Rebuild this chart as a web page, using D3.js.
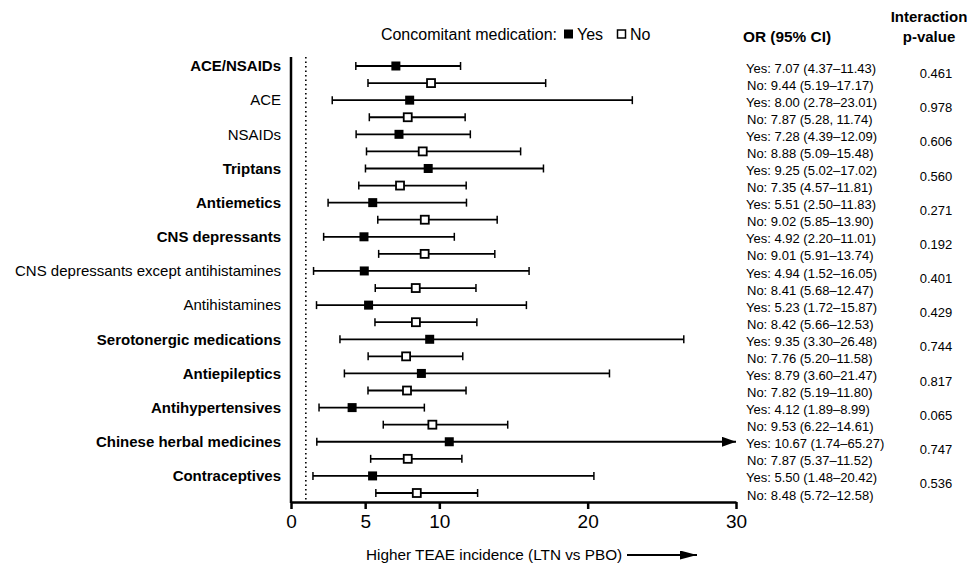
<!DOCTYPE html>
<html>
<head>
<meta charset="utf-8">
<script src="https://cdn.jsdelivr.net/npm/d3@7"></script>
<style>
  body { margin: 0; background: #fff; }
  svg { font-family: "Liberation Sans", Arial, sans-serif; }
</style>
</head>
<body>
<svg id="chart" width="969" height="565"></svg>
<script>
// data
const groups = ['ACE/NSAIDs', 'ACE', 'NSAIDs', 'Triptans', 'Antiemetics', 'CNS depressants',
  'CNS depressants except antihistamines', 'Antihistamines', 'Serotonergic medications',
  'Antiepileptics', 'Antihypertensives', 'Chinese herbal medicines', 'Contraceptives'];
const boldGroups = [true, false, false, true, true, true, false, false, true, true, true, true, true];
const yesOR = [7.07, 8.00, 7.28, 9.25, 5.51, 4.92, 4.94, 5.23, 9.35, 8.79, 4.12, 10.67, 5.50];
const yesLo = [4.37, 2.78, 4.39, 5.02, 2.50, 2.20, 1.52, 1.72, 3.30, 3.60, 1.89, 1.74, 1.48];
const yesHi = [11.43, 23.01, 12.09, 17.02, 11.83, 11.01, 16.05, 15.87, 26.48, 21.47, 8.99, 65.27, 20.42];
const noOR = [9.44, 7.87, 8.88, 7.35, 9.02, 9.01, 8.41, 8.42, 7.76, 7.82, 9.53, 7.87, 8.48];
const noLo = [5.19, 5.28, 5.09, 4.57, 5.85, 5.91, 5.68, 5.66, 5.20, 5.19, 6.22, 5.37, 5.72];
const noHi = [17.17, 11.74, 15.48, 11.81, 13.90, 13.74, 12.47, 12.53, 11.58, 11.80, 14.61, 11.52, 12.58];
const pValues = ['0.461', '0.978', '0.606', '0.560', '0.271', '0.192', '0.401', '0.429', '0.744', '0.817', '0.065', '0.747', '0.536'];
const xTicks = [0, 5, 10, 20, 30];

const svg = d3.select('#chart');
const x = d3.scaleLinear().domain([0, 30]).range([291, 736]);
const fmt = d3.format('.2f');

// one row per group and arm
const rows = [];
groups.forEach((g, i) => {
  rows.push({ key: g + '|Yes', arm: 'Yes', i, or: yesOR[i], lo: yesLo[i], hi: yesHi[i] });
  rows.push({ key: g + '|No', arm: 'No', i, or: noOR[i], lo: noLo[i], hi: noHi[i] });
});
const y = d3.scalePoint().domain(rows.map(d => d.key)).range([66, 493]);

// CI text uses the style printed in the figure
const ciText = (d) => {
  if (d.i === 1 && d.arm === 'No') return `No: ${fmt(d.or)} (${fmt(d.lo)}, ${fmt(d.hi)})`;
  return `${d.arm}: ${fmt(d.or)} (${fmt(d.lo)}\u2013${fmt(d.hi)})`;
};

// arrow markers
const defs = svg.append('defs');
[['arrowBar', 14, 10], ['arrowTitle', 17, 9]].forEach(([id, w, h]) => {
  defs.append('marker')
    .attr('id', id)
    .attr('viewBox', `0 0 ${w} ${h}`)
    .attr('refX', w).attr('refY', h / 2)
    .attr('markerWidth', w).attr('markerHeight', h)
    .attr('markerUnits', 'userSpaceOnUse')
    .attr('orient', 'auto')
    .append('path').attr('d', `M0,0L${w},${h / 2}L0,${h}Z`).attr('fill', '#000');
});

// reference line at OR = 1
svg.append('line')
  .attr('x1', x(1)).attr('x2', x(1))
  .attr('y1', 57).attr('y2', 502)
  .attr('stroke', '#000').attr('stroke-width', 1.6)
  .attr('stroke-dasharray', '1.5,3');

// x axis
const xAxis = svg.append('g')
  .attr('transform', 'translate(0,502)')
  .call(d3.axisBottom(x).tickValues(xTicks).tickSize(7).tickSizeOuter(0).tickPadding(6));
xAxis.select('.domain').attr('stroke-width', 2.5);
xAxis.selectAll('.tick line').attr('stroke-width', 2.5);
xAxis.selectAll('.tick text').attr('font-size', 19).attr('fill', '#000')
  .attr('font-family', '"Liberation Sans", Arial, sans-serif');

// y axis line
svg.append('line')
  .attr('x1', 291).attr('x2', 291)
  .attr('y1', 57).attr('y2', 503)
  .attr('stroke', '#000').attr('stroke-width', 2.5);

// group labels
svg.append('g').selectAll('text')
  .data(groups)
  .join('text')
  .attr('x', 281)
  .attr('y', (d) => y(d + '|Yes'))
  .attr('dy', '0.35em')
  .attr('text-anchor', 'end')
  .attr('font-size', 15)
  .attr('font-weight', (d, i) => boldGroups[i] ? 'bold' : 'normal')
  .text(d => d);

// error bars
const bars = svg.append('g').selectAll('g')
  .data(rows)
  .join('g')
  .attr('transform', d => `translate(0,${y(d.key)})`);

bars.append('line')
  .attr('x1', d => x(d.lo))
  .attr('x2', d => x(Math.min(d.hi, 30)))
  .attr('stroke', '#000').attr('stroke-width', 1.8)
  .attr('marker-end', d => d.hi > 30 ? 'url(#arrowBar)' : null);

bars.append('line')
  .attr('x1', d => x(d.lo)).attr('x2', d => x(d.lo))
  .attr('y1', -4).attr('y2', 4)
  .attr('stroke', '#000').attr('stroke-width', 1.5);

bars.filter(d => d.hi <= 30).append('line')
  .attr('x1', d => x(d.hi)).attr('x2', d => x(d.hi))
  .attr('y1', -4).attr('y2', 4)
  .attr('stroke', '#000').attr('stroke-width', 1.5);

bars.filter(d => d.arm === 'Yes').append('rect')
  .attr('x', d => x(d.or) - 4.5).attr('y', -4.5)
  .attr('width', 9).attr('height', 9)
  .attr('fill', '#000');

bars.filter(d => d.arm === 'No').append('rect')
  .attr('x', d => x(d.or) - 4).attr('y', -4)
  .attr('width', 8).attr('height', 8)
  .attr('fill', '#fff').attr('stroke', '#000').attr('stroke-width', 1.8);

// OR (95% CI) column
svg.append('g').selectAll('text')
  .data(rows)
  .join('text')
  .attr('x', d => d.arm === 'Yes' ? 746 : 747)
  .attr('y', d => y(d.key) + 2)
  .attr('dy', '0.35em')
  .attr('font-size', 13)
  .text(ciText);

// p-value column
svg.append('g').selectAll('text')
  .data(pValues)
  .join('text')
  .attr('x', 936)
  .attr('y', (d, i) => (y(groups[i] + '|Yes') + y(groups[i] + '|No')) / 2 - 1)
  .attr('dy', '0.35em')
  .attr('text-anchor', 'middle')
  .attr('font-size', 13)
  .text(d => d);

// headers
svg.append('text')
  .attr('x', 743).attr('y', 37).attr('dy', '0.35em')
  .attr('font-size', 15.4).attr('font-weight', 'bold')
  .text('OR (95% CI)');
svg.append('text')
  .attr('x', 929).attr('y', 17).attr('dy', '0.35em')
  .attr('text-anchor', 'middle')
  .attr('font-size', 15).attr('font-weight', 'bold')
  .text('Interaction');
svg.append('text')
  .attr('x', 929).attr('y', 37).attr('dy', '0.35em')
  .attr('text-anchor', 'middle')
  .attr('font-size', 15).attr('font-weight', 'bold')
  .text('p-value');

// legend
const legend = svg.append('g').attr('transform', 'translate(0,34)');
legend.append('text')
  .attr('x', 557).attr('dy', '0.35em')
  .attr('text-anchor', 'end').attr('font-size', 16)
  .text('Concomitant medication:');
legend.append('rect').attr('x', 564).attr('y', -4.5).attr('width', 9).attr('height', 9).attr('fill', '#000');
legend.append('text').attr('x', 577).attr('dy', '0.35em').attr('font-size', 16).text('Yes');
legend.append('rect').attr('x', 617.5).attr('y', -4).attr('width', 8).attr('height', 8)
  .attr('fill', '#fff').attr('stroke', '#000').attr('stroke-width', 1.5);
legend.append('text').attr('x', 630).attr('dy', '0.35em').attr('font-size', 16).text('No');

// axis title with arrow
svg.append('text')
  .attr('x', 366).attr('y', 555).attr('dy', '0.35em')
  .attr('font-size', 15.3)
  .text('Higher TEAE incidence (LTN vs PBO)');
svg.append('line')
  .attr('x1', 627).attr('x2', 697)
  .attr('y1', 555).attr('y2', 555)
  .attr('stroke', '#000').attr('stroke-width', 2)
  .attr('marker-end', 'url(#arrowTitle)');
</script>
</body>
</html>
